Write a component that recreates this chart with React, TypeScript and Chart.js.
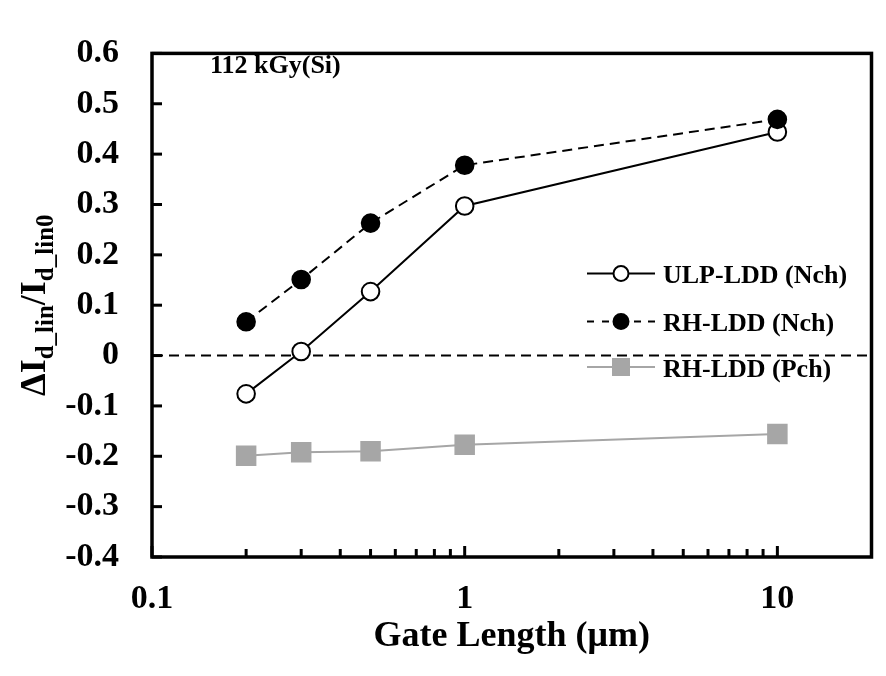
import React, { useEffect, useRef } from "react";
import { Chart, registerables } from "chart.js";

Chart.register(...registerables);

// ---- data ----
const gateLengths = [0.2, 0.3, 0.5, 1, 10];
const ulpNch = [-0.076, 0.008, 0.127, 0.297, 0.444];
const rhNch = [0.067, 0.151, 0.263, 0.378, 0.469];
const rhPch = [-0.199, -0.192, -0.19, -0.177, -0.156];
const seriesLabels = ["ULP-LDD (Nch)", "RH-LDD (Nch)", "RH-LDD (Pch)"];
const xMajorTicks = [0.1, 1, 10];
const xMinorTicks = [0.2, 0.3, 0.4, 0.5, 0.6, 0.7, 0.8, 0.9, 2, 3, 4, 5, 6, 7, 8, 9];
const yTickValues = [-0.4, -0.3, -0.2, -0.1, 0, 0.1, 0.2, 0.3, 0.4, 0.5, 0.6];
const annotationText = "112 kGy(Si)";
const xTitle = "Gate Length (\u03BCm)";

const FONT = "'Liberation Serif', 'Times New Roman', serif";
const GRAY = "#A6A6A6";

const toPoints = (ys: number[]) => gateLengths.map((x, i) => ({ x, y: ys[i] }));

const decorPlugin = {
  id: "decor",
  beforeDatasetsDraw(chart: any) {
    const { ctx, chartArea, scales } = chart;
    const y0 = scales.y.getPixelForValue(0);
    ctx.save();
    ctx.strokeStyle = "#000";
    ctx.lineWidth = 2;
    ctx.setLineDash([10, 6]);
    ctx.lineDashOffset = -17;
    ctx.beginPath();
    ctx.moveTo(chartArea.left, y0);
    ctx.lineTo(chartArea.right, y0);
    ctx.stroke();
    ctx.restore();
  },
  afterDraw(chart: any) {
    const { ctx, chartArea, scales } = chart;
    const { left, right, top, bottom } = chartArea;
    ctx.save();
    // frame
    ctx.strokeStyle = "#000";
    ctx.lineWidth = 3.5;
    ctx.setLineDash([]);
    ctx.strokeRect(left, top, right - left, bottom - top);
    // y ticks inward
    ctx.lineWidth = 3;
    yTickValues.forEach((v) => {
      const py = scales.y.getPixelForValue(v);
      ctx.beginPath();
      ctx.moveTo(left, py);
      ctx.lineTo(left + 10, py);
      ctx.stroke();
    });
    // x ticks inward
    xMajorTicks.forEach((v) => {
      const px = scales.x.getPixelForValue(v);
      ctx.beginPath();
      ctx.moveTo(px, bottom);
      ctx.lineTo(px, bottom - 11);
      ctx.stroke();
    });
    xMinorTicks.forEach((v) => {
      const px = scales.x.getPixelForValue(v);
      ctx.beginPath();
      ctx.moveTo(px, bottom);
      ctx.lineTo(px, bottom - 8);
      ctx.stroke();
    });

    // annotation
    ctx.fillStyle = "#000";
    ctx.font = `bold 26px ${FONT}`;
    ctx.textAlign = "left";
    ctx.textBaseline = "alphabetic";
    ctx.fillText(annotationText, 210, 73);

    // legend
    const lx0 = 587, lx1 = 655, mx = 621, tx = 663;
    const rows = [273.5, 321.5, 367];
    // ULP
    ctx.strokeStyle = "#000";
    ctx.lineWidth = 2;
    ctx.beginPath();
    ctx.moveTo(lx0, rows[0]);
    ctx.lineTo(lx1, rows[0]);
    ctx.stroke();
    ctx.beginPath();
    ctx.arc(mx, rows[0], 7.5, 0, Math.PI * 2);
    ctx.fillStyle = "#fff";
    ctx.fill();
    ctx.stroke();
    // RH Nch (dashed sample)
    [[587, 594], [602, 609], [634, 641], [648, 655]].forEach(([a, b]) => {
      ctx.beginPath();
      ctx.moveTo(a, rows[1]);
      ctx.lineTo(b, rows[1]);
      ctx.stroke();
    });
    ctx.beginPath();
    ctx.arc(mx, rows[1], 7.5, 0, Math.PI * 2);
    ctx.fillStyle = "#000";
    ctx.fill();
    ctx.stroke();
    // Pch
    ctx.strokeStyle = GRAY;
    ctx.beginPath();
    ctx.moveTo(lx0, rows[2]);
    ctx.lineTo(lx1, rows[2]);
    ctx.stroke();
    ctx.fillStyle = GRAY;
    ctx.fillRect(mx - 9, rows[2] - 9, 18, 18);
    // legend text
    ctx.fillStyle = "#000";
    ctx.font = `bold 26px ${FONT}`;
    seriesLabels.forEach((t, i) => {
      ctx.fillText(t, tx, rows[i] + 9.5);
    });

    // y title with subscripts
    const mainF = `bold 36px ${FONT}`;
    const subF = `bold 25px ${FONT}`;
    const parts: [string, boolean][] = [
      ["\u0394I", false],
      ["d_lin", true],
      ["/I", false],
      ["d_lin0", true],
    ];
    let total = 0;
    parts.forEach(([t, sub]) => {
      ctx.font = sub ? subF : mainF;
      total += ctx.measureText(t).width;
    });
    ctx.translate(45, (top + bottom) / 2);
    ctx.rotate(-Math.PI / 2);
    let cx = -total / 2;
    parts.forEach(([t, sub]) => {
      ctx.font = sub ? subF : mainF;
      ctx.fillText(t, cx, sub ? 8 : 0);
      cx += ctx.measureText(t).width;
    });
    ctx.restore();
  },
};

export default function App() {
  const ref = useRef<HTMLCanvasElement | null>(null);
  useEffect(() => {
    if (!ref.current) return;
    const chart = new Chart(ref.current, {
      type: "line",
      data: {
        datasets: [
          {
            label: seriesLabels[0],
            data: toPoints(ulpNch),
            borderColor: "#000",
            borderWidth: 2,
            pointStyle: "circle",
            pointRadius: 8.8,
            pointBorderWidth: 2,
            pointBackgroundColor: "#fff",
            pointBorderColor: "#000",
            order: 1,
          },
          {
            label: seriesLabels[1],
            data: toPoints(rhNch),
            borderColor: "#000",
            borderWidth: 2,
            borderDash: [10, 6],
            pointStyle: "circle",
            pointRadius: 8.8,
            pointBorderWidth: 2,
            pointBackgroundColor: "#000",
            pointBorderColor: "#000",
            order: 0,
          },
          {
            label: seriesLabels[2],
            data: toPoints(rhPch),
            borderColor: GRAY,
            borderWidth: 2,
            pointStyle: "rect",
            pointRadius: 14.5,
            pointBorderWidth: 0,
            pointBackgroundColor: GRAY,
            pointBorderColor: GRAY,
            order: 2,
          },
        ],
      },
      options: {
        animation: false,
        responsive: false,
        layout: { padding: { left: 0, right: 3, top: 23, bottom: 0 } },
        plugins: { legend: { display: false }, tooltip: { enabled: false } },
        scales: {
          x: {
            type: "logarithmic",
            min: 0.1,
            max: 20,
            grid: { display: false, drawTicks: false },
            border: { display: false },
            afterFit: (s: any) => {
              s.height = 119;
            },
            afterBuildTicks: (s: any) => {
              s.ticks = xMajorTicks.map((v) => ({ value: v }));
            },
            ticks: {
              autoSkip: false,
              maxRotation: 0,
              padding: 22,
              color: "#000",
              font: { family: FONT, size: 34, weight: "bold" },
              callback: (v: any) => String(v),
            },
            title: {
              display: true,
              text: xTitle,
              color: "#000",
              font: { family: FONT, size: 36, weight: "bold" },
              padding: { top: 0, bottom: 18 },
            },
          },
          y: {
            type: "linear",
            min: -0.4,
            max: 0.6,
            grid: { display: false, drawTicks: false },
            border: { display: false },
            afterFit: (s: any) => {
              s.width = 152;
            },
            afterBuildTicks: (s: any) => {
              s.ticks = yTickValues.map((v) => ({ value: v }));
            },
            ticks: {
              padding: 33,
              color: "#000",
              font: { family: FONT, size: 34, weight: "bold" },
              callback: (v: any) => String(Number(Number(v).toFixed(1))),
            },
          },
        },
      },
      plugins: [decorPlugin],
    } as any);
    return () => chart.destroy();
  }, []);
  return (
    <div style={{ position: "absolute", left: 0, top: 0, width: 886, height: 676, background: "#fff" }}>
      <canvas ref={ref} width={886} height={676} style={{ display: "block", width: 886, height: 676 }} />
    </div>
  );
}
